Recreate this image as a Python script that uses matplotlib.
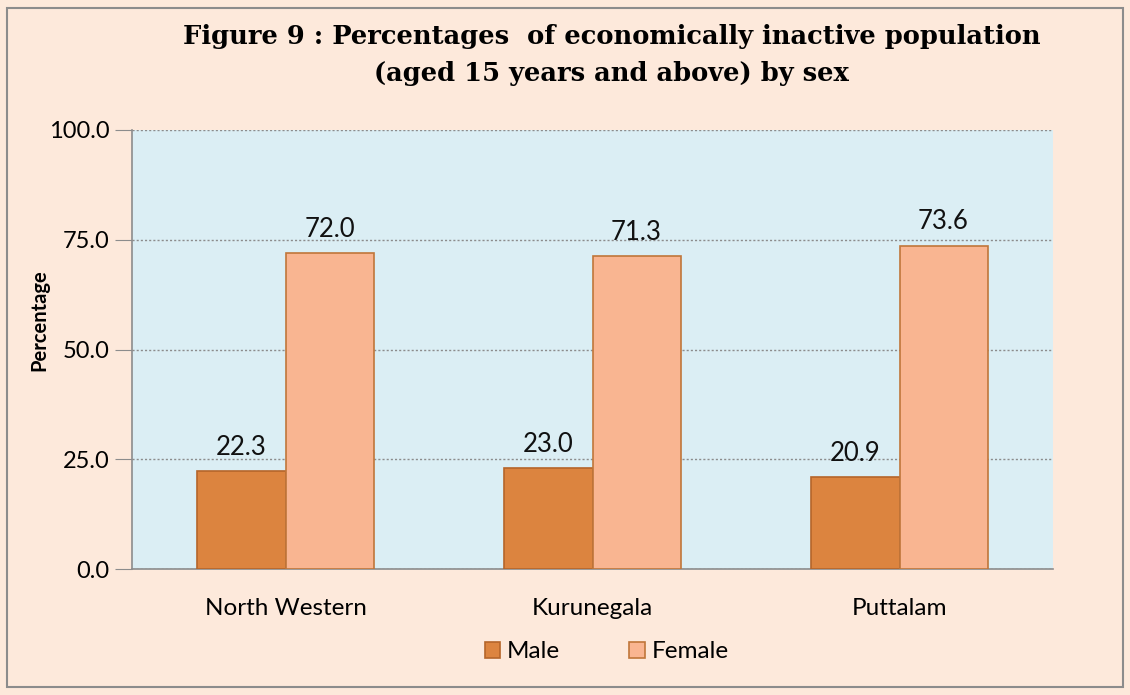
import matplotlib
matplotlib.use("Agg")
import matplotlib.pyplot as plt
from matplotlib.patches import Rectangle
import numpy as np

categories = ["North Western", "Kurunegala", "Puttalam"]
male = [22.3, 23.0, 20.9]
female = [72.0, 71.3, 73.6]
series_names = ["Male", "Female"]
yticks = [0, 25, 50, 75, 100]

plt.rcParams['font.family'] = ['Lato', 'DejaVu Sans']

fig = plt.figure(figsize=(11.3, 6.95), dpi=100, facecolor='#FDE9DB')
fig.patches.append(Rectangle((7/1130, 8/695), 1 - 14/1130, 1 - 16/695,
                             transform=fig.transFigure, fill=False,
                             edgecolor='#8C8C8C', linewidth=1.5))
ax = fig.add_axes([132/1130, 1 - 569/695, 921/1130, 439/695])
ax.set_facecolor('#DBEEF4')

x = np.arange(len(categories))
w = 0.287
b1 = ax.bar(x - w/2, male, w, color='#DC843F', edgecolor='#B5652A', linewidth=1.2, label=series_names[0], zorder=3)
b2 = ax.bar(x + w/2, female, w, color='#F9B591', edgecolor='#C0763A', linewidth=1.2, label=series_names[1], zorder=3)

for bars, vals in ((b1, male), (b2, female)):
    for r, v in zip(bars, vals):
        ax.text(r.get_x() + r.get_width()/2, v + 2.6, f"{v:.1f}", ha='center', va='bottom',
                fontsize=18.5, color='#111111', zorder=4)

ax.set_xlim(-0.5, 2.5)
ax.set_ylim(0, 100)
ax.set_yticks(yticks)
ax.set_yticklabels([f"{t:.1f}" for t in yticks], fontsize=17)
ax.set_xticks(x)
ax.set_xticklabels(categories, fontsize=17.5)
ax.tick_params(axis='x', length=0, pad=21)
ax.tick_params(axis='y', length=12, color='#8C8C8C', pad=4)
ax.yaxis.grid(True, linestyle=(0, (1.5, 1.5)), color='#8C8C8C', linewidth=1.0, zorder=0)
for s in ['top', 'right']:
    ax.spines[s].set_visible(False)
for s in ['left', 'bottom']:
    ax.spines[s].set_color('#8C8C8C')
    ax.spines[s].set_linewidth(1.2)
ax.set_ylabel("Percentage", fontsize=14.5, fontweight='bold')
ax.yaxis.set_label_coords(-0.09, 0.567)

fig.text(0.541, 0.965, "Figure 9 : Percentages  of economically inactive population\n(aged 15 years and above) by sex",
         ha='center', va='top', fontsize=18.5, fontweight='bold', family=['DejaVu Serif'],
         linespacing=1.6)

leg = fig.legend(handles=[b1, b2], loc='center', bbox_to_anchor=(0.537, 1 - 652/695), ncol=2,
                 frameon=False, fontsize=17.5, handlelength=0.62, handleheight=0.62, columnspacing=2.85,
                 handletextpad=0.3)

fig.savefig("out.png", dpi=100, facecolor=fig.get_facecolor())
